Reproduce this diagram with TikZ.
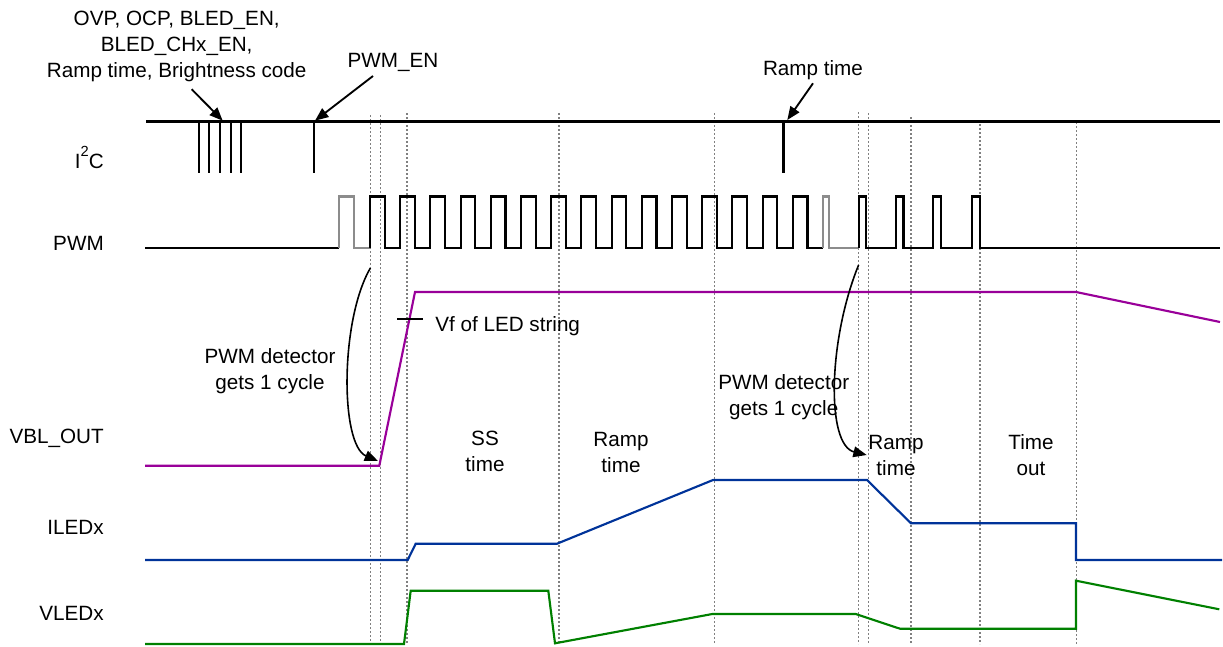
\documentclass[tikz,border=0pt]{standalone}
\usepackage{fontspec}
\setmainfont{Liberation Sans}
\usetikzlibrary{arrows.meta}
\definecolor{vblcol}{RGB}{153,0,153}
\definecolor{iledcol}{RGB}{0,51,153}
\definecolor{vledcol}{RGB}{0,128,0}
\definecolor{pwmgray}{RGB}{140,140,140}
\definecolor{guidegray}{RGB}{128,128,128}

\begin{document}
\begin{tikzpicture}[
  x=0.75pt, y=-0.75pt,
  every node/.style={font=\fontsize{15.5}{19.5}\selectfont, inner sep=0pt},
  sig/.style={anchor=base east},
  note/.style={align=center, anchor=base},
  wave/.style={line width=1.6pt},
  guide/.style={draw=guidegray, line width=0.9pt, dash pattern=on 1.6pt off 1.4pt},
  arr/.style={-{Triangle[length=10pt,width=8pt]}, line width=1.4pt},
  carr/.style={arr, line width=1.2pt}
]
\useasboundingbox (0,0) rectangle (1223,646);

\foreach \gx/\gy in {370.5/115,380.5/115,407/113,559/113,714.5/113,858.5/112,868.5/113,911/117,980/120,1076.5/122}
  \draw[guide] (\gx,\gy) -- (\gx,644);

\node[sig] (i2c) at (104,168) {I\raisebox{0.55em}{\fontsize{11}{11}\selectfont 2}C};
\node[sig] (pwm) at (104,250) {PWM};
\node[sig] (vbl) at (104,443) {VBL\_OUT};
\node[sig] (iled) at (104,534) {ILEDx};
\node[sig] (vled) at (104,620) {VLEDx};

\node[note] (cfg) at (176.7,77.7) {OVP, OCP, BLED\_EN,\\BLED\_CHx\_EN,\\Ramp time, Brightness code};
\node[note] (pwmen) at (393,67) {PWM\_EN};
\node[note] (rampcmd) at (813,75) {Ramp time};
\node[anchor=base west] (vf) at (435,331) {Vf of LED string};
\node[note] (det1) at (270,389) {PWM detector\\gets 1 cycle};
\node[note, anchor=base west] (det2) at (718,415) {PWM detector\\gets 1 cycle};
\node[note] (ss) at (485,471) {SS\\time};
\node[note] (ramp1) at (621,472) {Ramp\\time};
\node[note] (ramp2) at (896,475) {Ramp\\time};
\node[note] (tout) at (1031,475) {Time\\out};

\coordinate (cfgpt) at (222.7,120.7);
\coordinate (enpt) at (315,120.7);
\coordinate (rpt) at (787.3,120);
\coordinate (det1a) at (370.4,268);
\coordinate (det1b) at (378,461);
\coordinate (det2a) at (858.6,265);
\coordinate (det2b) at (866.7,455);

% I2C
\draw[wave] (146,121.5) -- (1220,121.5);
\foreach \px in {199.3,209.3,220,230.7,240.7,314,783.5}
  \draw[wave] (\px,121.5) -- (\px,173.3);

% PWM
\draw[wave] (145,248) -- (339.3,248);
\draw[wave, pwmgray] (339.3,248) |- (354.3,196.5) |- (370,248);
\draw[wave] (370,248) foreach \k in {0,...,14} { |- ({384.7+30.2*\k},196.5) |- ({400.2+30.2*\k},248) };
\draw[wave, pwmgray] (823,248) |- (829.3,196.5) |- (858.6,248);
\draw[wave] (858.6,248) |- (866.4,196.5) |- (896,248) |- (903.5,196.5) |- (933.3,248)
  |- (941,196.5) |- (971.7,248) |- (980,196.5) |- (1220,248);

% VBL_OUT
\draw[wave, vblcol] (145,465.7) -- (379.3,465.7) -- (415,292) -- (1076,292) -- (1220,322);
\draw[wave] (397.3,319) -- (423.3,319);

% ILEDx
\draw[wave, iledcol] (145,560) -- (407.7,560) -- (415.7,543.7) -- (557,543.7) -- (713,480)
  -- (867,480) -- (911,523.3) -- (1076,523.3) -- (1076,560) -- (1222,560);

% VLEDx
\draw[wave, vledcol] (145,644) -- (404,644) -- (410.7,590.7) -- (548.3,590.7) -- (555,643.3)
  -- (712.3,614) -- (855.7,614) -- (900,628.7) -- (1076,628.7) -- (1076,580.7) -- (1219.3,609.3);

\draw[arr] ([shift={(15,7)}]cfg.south) -- (cfgpt);
\draw[arr] ([shift={(-20,9)}]pwmen.base) -- (enpt);
\draw[arr] ([shift={(0,8.3)}]rampcmd.base) -- (rpt);
\draw[carr] (det1a) .. controls (340,320) and (340,445) .. (det1b);
\draw[carr] (det2a) .. controls (828,340) and (826,445) .. (det2b);
\end{tikzpicture}
\end{document}
